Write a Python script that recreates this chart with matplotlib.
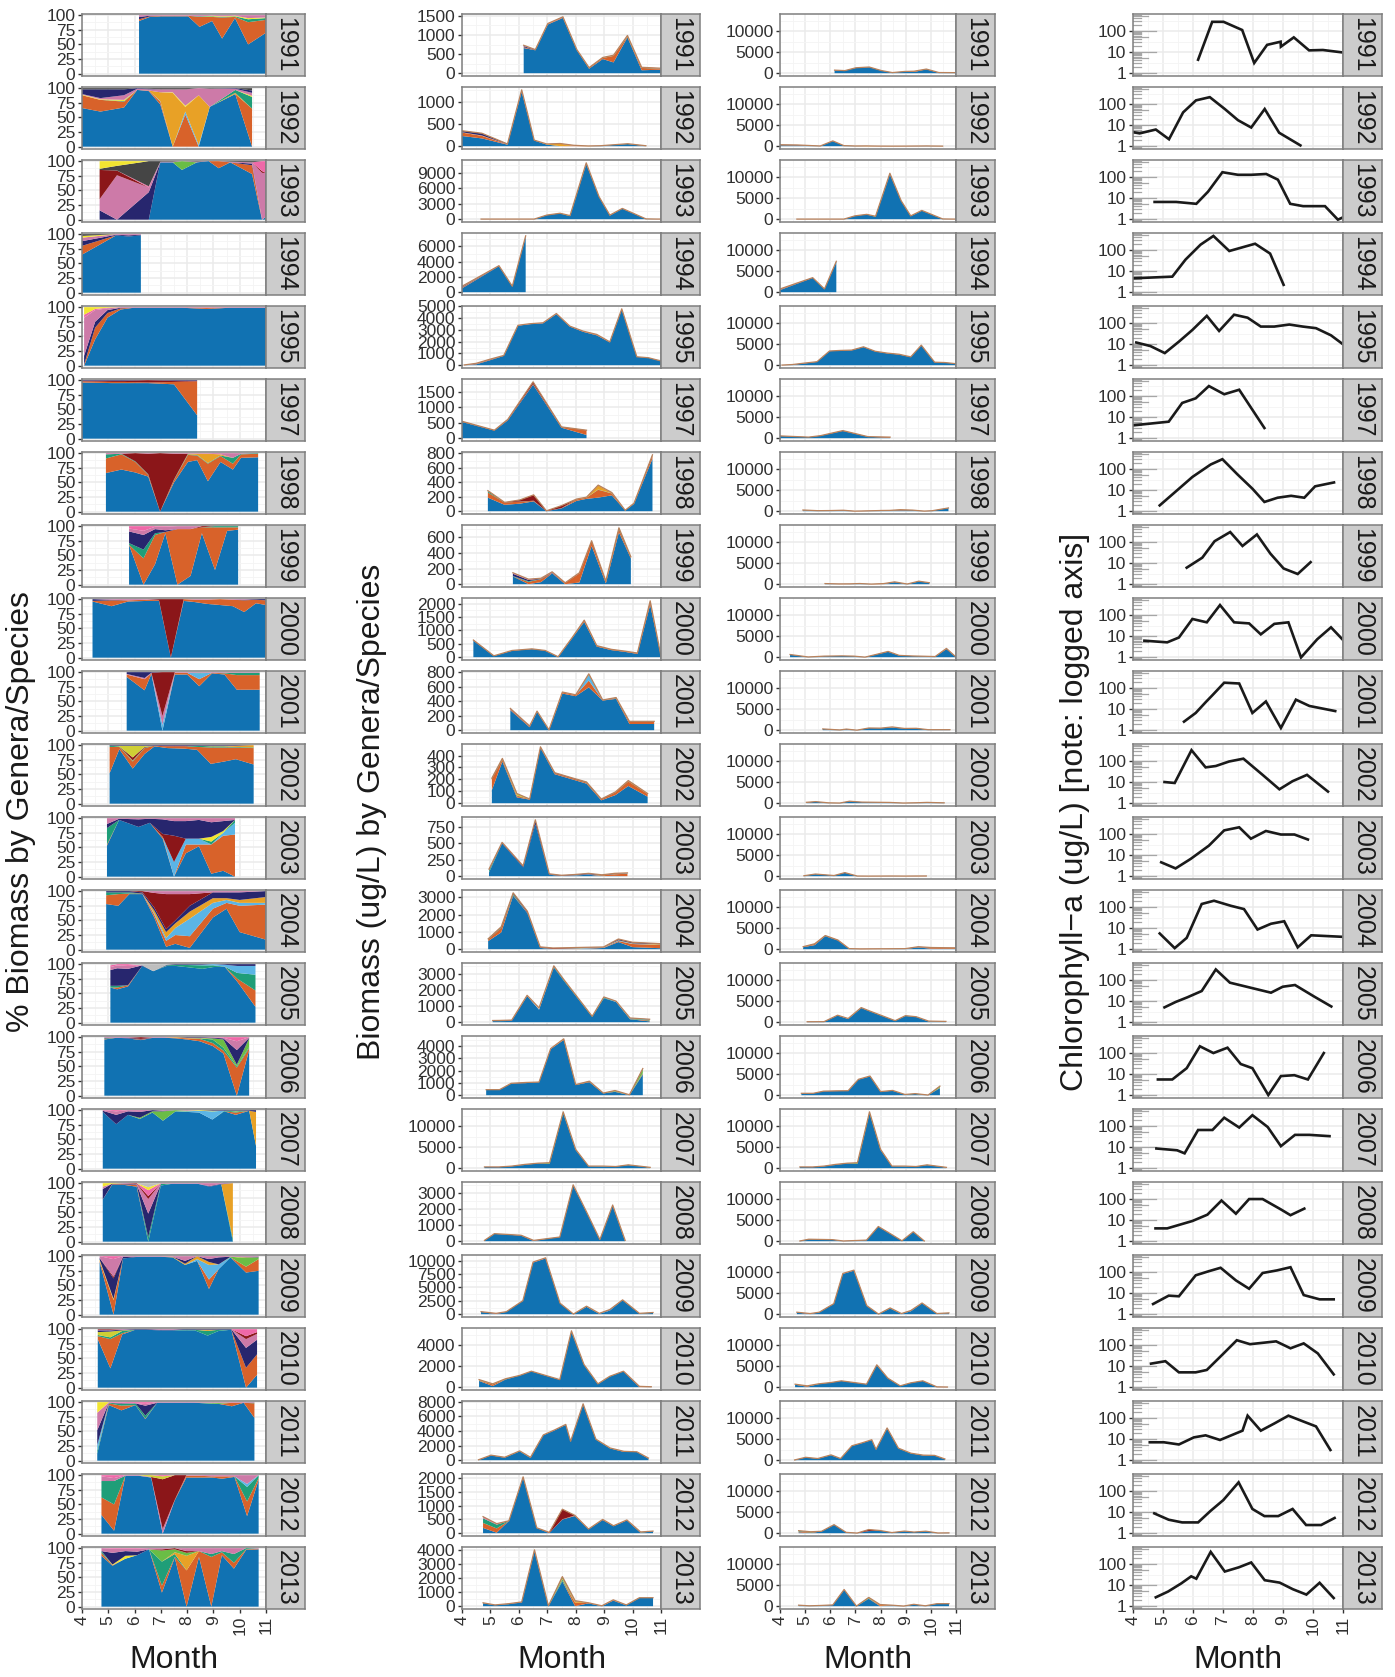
import numpy as np
import matplotlib
matplotlib.use("Agg")
import matplotlib.pyplot as plt
import matplotlib.transforms as mtransforms

plt.rcParams['font.family'] = ['Liberation Sans', 'DejaVu Sans']

years = [1991, 1992, 1993, 1994, 1995, 1997, 1998, 1999, 2000, 2001, 2002,
         2003, 2004, 2005, 2006, 2007, 2008, 2009, 2010, 2011, 2012, 2013]

# sampling dates (fractional month) for the phytoplankton counts
bio_month = {
    1991: [6.17, 6.58, 7.02, 7.55, 8.04, 8.47, 8.95, 9.33, 9.82, 10.32, 11.0],
    1992: [4.0, 4.7, 5.6, 6.1, 6.54, 6.98, 7.45, 7.93, 8.44, 8.86, 9.83, 10.47],
    1993: [4.67, 5.33, 6.54, 6.98, 7.45, 7.8, 8.37, 8.82, 9.2, 9.64, 10.47, 10.85, 11.0],
    1994: [4.0, 5.3, 5.77, 6.24],
    1995: [4.08, 4.5, 4.97, 5.47, 5.97, 6.38, 6.85, 7.32, 7.79, 8.26, 8.74, 9.2, 9.62, 10.15, 10.56, 11.0],
    1997: [4.0, 5.14, 5.61, 6.5, 7.5, 8.38],
    1998: [4.91, 5.5, 6.03, 6.52, 6.97, 7.5, 8.03, 8.38, 8.79, 9.27, 9.74, 10.05, 10.7],
    1999: [5.79, 6.34, 6.78, 7.17, 7.63, 8.13, 8.56, 9.06, 9.52, 9.94],
    2000: [4.4, 5.12, 5.76, 6.46, 6.93, 7.38, 7.87, 8.3, 8.74, 9.25, 9.74, 10.17, 10.62, 11.0],
    2001: [5.7, 6.38, 6.64, 7.06, 7.53, 8.0, 8.46, 8.95, 9.42, 9.89, 10.76],
    2002: [5.05, 5.42, 5.93, 6.38, 6.76, 7.26, 7.91, 8.38, 8.9, 9.4, 9.85, 10.53],
    2003: [4.95, 5.41, 6.15, 6.58, 7.07, 7.5, 7.95, 8.45, 8.92, 9.37, 9.82],
    2004: [4.92, 5.38, 5.8, 6.3, 6.75, 7.2, 7.55, 8.1, 8.98, 9.5, 10.0, 11.0],
    2005: [5.08, 5.34, 5.75, 6.29, 6.71, 7.23, 7.56, 8.58, 8.99, 9.42, 9.91, 10.6],
    2006: [4.85, 5.32, 5.73, 6.24, 6.71, 7.12, 7.58, 8.0, 8.48, 8.97, 9.38, 9.89, 10.36],
    2007: [4.79, 5.3, 5.75, 6.2, 6.68, 7.08, 7.56, 8.0, 8.45, 8.96, 9.41, 9.85, 10.36, 10.62],
    2008: [4.79, 5.14, 5.61, 6.08, 6.52, 7.0, 7.44, 7.91, 8.4, 8.85, 9.3, 9.74],
    2009: [4.67, 5.2, 5.56, 6.14, 6.5, 6.94, 7.45, 7.92, 8.38, 8.83, 9.2, 9.65, 10.24, 10.72],
    2010: [4.6, 5.08, 5.53, 6.03, 6.44, 6.94, 7.44, 7.85, 8.29, 8.78, 9.2, 9.68, 10.24, 10.66],
    2011: [4.58, 5.02, 5.5, 6.03, 6.41, 6.86, 7.26, 7.65, 7.82, 8.26, 8.71, 9.21, 9.7, 10.15, 10.56],
    2012: [4.74, 5.22, 5.65, 6.15, 6.63, 7.07, 7.53, 7.97, 8.45, 8.95, 9.33, 9.8, 10.28, 10.72],
    2013: [4.74, 5.16, 5.65, 6.1, 6.55, 7.04, 7.53, 7.98, 8.45, 8.92, 9.32, 9.78, 10.24, 10.72],
}

# total biomass (ug/L) on those dates
bio_total = {
    1991: [730, 617, 1300, 1474, 617, 146, 411, 470, 986, 154, 130],
    1992: [346, 290, 50, 1263, 135, 50, 60, 20, 5, 10, 55, 10],
    1993: [20, 20, 20, 800, 1160, 700, 11000, 4400, 800, 2100, 60, 20, 20],
    1994: [780, 3480, 780, 7400],
    1995: [20, 160, 500, 830, 3400, 3530, 3610, 4400, 3330, 2900, 2620, 1985, 4800, 715, 635, 360],
    1997: [545, 258, 606, 1818, 364, 258],
    1998: [284, 122, 155, 226, 5, 77, 168, 194, 361, 258, 13, 110, 780],
    1999: [146, 64, 76, 158, 18, 146, 555, 40, 720, 350],
    2000: [640, 52, 250, 310, 250, 17, 724, 1380, 430, 293, 224, 155, 2100, 30],
    2001: [300, 58, 263, 5, 526, 488, 777, 417, 450, 122, 122],
    2002: [210, 376, 81, 35, 473, 256, 210, 178, 35, 95, 190, 81],
    2003: [107, 514, 157, 857, 36, 14, 25, 43, 21, 43, 50],
    2004: [600, 1300, 3270, 2200, 134, 70, 80, 100, 130, 590, 400, 320],
    2005: [104, 110, 130, 1670, 887, 3500, 2700, 365, 1566, 1305, 261, 183],
    2006: [450, 450, 966, 1035, 1070, 3800, 4590, 863, 1140, 172, 380, 35, 2170],
    2007: [300, 300, 500, 900, 1200, 1300, 13500, 4500, 500, 500, 400, 800, 400, 200],
    2008: [50, 470, 420, 370, 50, 160, 260, 3520, 1760, 100, 2260, 50],
    2009: [472, 157, 472, 2520, 9760, 10550, 2050, 30, 1500, 157, 870, 2680, 157, 315],
    2010: [720, 320, 800, 1120, 1520, 1120, 720, 5360, 2160, 320, 1040, 1520, 80, 40],
    2011: [58, 690, 400, 1270, 400, 3460, 4150, 4900, 2590, 7720, 2880, 1670, 1210, 1150, 290],
    2012: [600, 345, 450, 2045, 195, 30, 870, 647, 150, 500, 270, 480, 45, 75],
    2013: [240, 90, 180, 300, 4000, 30, 2100, 390, 240, 30, 450, 90, 600, 600],
}

# y tick spacing of the free-scale biomass panels
bio_step = {1991: 500, 1992: 500, 1993: 3000, 1994: 2000, 1995: 1000, 1997: 500,
            1998: 200, 1999: 200, 2000: 500, 2001: 200, 2002: 100, 2003: 250,
            2004: 1000, 2005: 1000, 2006: 1000, 2007: 5000, 2008: 1000, 2009: 2500,
            2010: 2000, 2011: 2000, 2012: 500, 2013: 1000}

# percent composition by taxon (bottom -> top of the stack)
comp1991 = {'B': [90, 97, 98, 98, 98, 80, 90, 60, 95, 50, 70],
            'O': [3, 1, 1, 1, 1, 17, 7, 36, 2, 38, 22],
            'T': [0, 0, 0, 0, 0, 1, 1, 1, 1, 5, 3],
            'Y': [0, 0, 0, 0, 0, 0, 1, 1, 1, 2, 1],
            'N': [4, 1, 0, 0, 0, 0, 0, 0, 0, 0, 0],
            'P': [3, 1, 1, 1, 1, 2, 1, 2, 1, 5, 4]}
comp1992 = {'B': [66, 60, 67, 97, 95, 72, 0, 0, 0, 68, 90, 0],
            'O': [22, 20, 10, 0, 1, 5, 0, 55, 0, 0, 0, 65],
            'L': [0, 0, 0, 0, 0, 1, 0, 5, 3, 0, 0, 0],
            'G': [0, 0, 0, 0, 0, 15, 92, 8, 85, 0, 2, 0],
            'T': [0, 0, 1, 0, 0, 0, 0, 0, 0, 0, 5, 20],
            'Y': [1, 1, 2, 0, 0, 0, 1, 2, 0, 0, 0, 2],
            'P': [1, 2, 8, 2, 2, 5, 5, 28, 12, 31, 2, 5],
            'N': [8, 15, 10, 1, 1, 0, 0, 0, 0, 0, 1, 4],
            'K': [2, 2, 2, 0, 1, 2, 2, 2, 0, 1, 0, 4]}
comp1993 = {'B': [0, 0, 0, 98, 98, 85, 98, 100, 88, 98, 78, 0, 5],
            'O': [0, 0, 0, 0, 0, 0, 0, 0, 12, 0, 15, 0, 0],
            'V': [0, 0, 0, 0, 0, 15, 0, 0, 0, 0, 0, 0, 0],
            'N': [16, 0, 47, 0, 0, 0, 0, 0, 0, 0, 3, 0, 0],
            'P': [19, 76, 8, 1, 1, 0, 1, 0, 0, 1, 2, 80, 75],
            'R': [50, 8, 0, 0, 0, 0, 0, 0, 0, 0, 0, 3, 0],
            'H': [0, 0, 2, 0, 0, 0, 0, 0, 0, 0, 0, 17, 20],
            'K': [2, 8, 43, 1, 1, 0, 1, 0, 0, 1, 2, 0, 0],
            'Y': [13, 8, 0, 0, 0, 0, 0, 0, 0, 0, 0, 0, 0]}
comp1994 = {'B': [65, 98, 96, 98], 'O': [15, 0, 0, 0], 'N': [8, 1, 2, 1],
            'P': [6, 1, 2, 1], 'Y': [3, 0, 0, 0], 'K': [3, 0, 0, 0]}
comp1995 = {'B': [0, 45, 82, 96, 99, 99, 99, 99, 99, 98, 97, 98, 99, 99, 99, 99],
            'O': [2, 20, 8, 2, 0, 0, 0, 0, 0, 1, 2, 1, 0, 0, 0, 0],
            'N': [15, 10, 5, 1, 0, 0, 0, 0, 0, 0, 0, 0, 0, 0, 0, 0],
            'P': [65, 20, 3, 1, 1, 1, 1, 1, 1, 1, 1, 1, 1, 1, 1, 1],
            'H': [5, 2, 1, 0, 0, 0, 0, 0, 0, 0, 0, 0, 0, 0, 0, 0],
            'Y': [13, 3, 1, 0, 0, 0, 0, 0, 0, 0, 0, 0, 0, 0, 0, 0]}
comp1997 = {'B': [96, 95, 95, 95, 92, 40], 'O': [2, 2, 2, 1, 4, 58],
            'R': [1, 2, 2, 4, 2, 1], 'N': [1, 1, 1, 0, 1, 1]}
comp1998 = {'B': [66, 72, 67, 60, 0, 50, 85, 88, 52, 85, 72, 92, 93],
            'O': [25, 26, 18, 3, 0, 4, 12, 8, 30, 10, 10, 6, 6],
            'T': [7, 1, 1, 1, 0, 1, 1, 1, 1, 1, 10, 1, 1],
            'G': [0, 0, 0, 0, 0, 0, 1, 2, 16, 2, 0, 0, 0],
            'R': [0, 0, 14, 35, 100, 44, 0, 0, 0, 0, 0, 0, 0],
            'P': [2, 1, 0, 1, 0, 1, 1, 1, 1, 2, 8, 1, 0]}
comp1999 = {'B': [68, 0, 35, 88, 0, 15, 88, 25, 92, 94],
            'O': [0, 45, 50, 2, 95, 80, 10, 73, 6, 4],
            'T': [3, 15, 3, 0, 0, 0, 0, 2, 2, 2],
            'N': [20, 25, 7, 3, 0, 0, 0, 0, 0, 0],
            'R': [0, 0, 0, 0, 0, 0, 2, 0, 0, 0],
            'P': [5, 7, 4, 6, 5, 5, 0, 0, 0, 0],
            'H': [4, 8, 1, 1, 0, 0, 0, 0, 0, 0]}
comp2000 = {'B': [96, 88, 96, 97, 97, 0, 97, 95, 92, 90, 88, 78, 93, 90],
            'O': [1, 10, 2, 2, 1, 0, 3, 4, 7, 10, 11, 20, 6, 8],
            'R': [0, 0, 0, 0, 2, 100, 0, 0, 0, 0, 0, 0, 0, 0],
            'N': [3, 1, 0, 0, 0, 0, 0, 0, 0, 0, 0, 1, 1, 2],
            'P': [0, 1, 2, 1, 0, 0, 0, 1, 1, 0, 1, 1, 0, 0]}
comp2001 = {'B': [92, 69, 97, 0, 96, 96, 76, 98, 96, 70, 70],
            'O': [4, 19, 1, 0, 3, 3, 12, 1, 2, 25, 25],
            'L': [0, 0, 0, 10, 0, 0, 10, 0, 0, 0, 0],
            'T': [0, 0, 0, 0, 0, 0, 1, 0, 1, 4, 4],
            'P': [1, 2, 1, 15, 1, 1, 1, 1, 1, 1, 1],
            'R': [0, 0, 0, 75, 0, 0, 0, 0, 0, 0, 0],
            'N': [3, 10, 1, 0, 0, 0, 0, 0, 0, 0, 0]}
comp2002 = {'B': [52, 93, 60, 85, 98, 95, 94, 92, 68, 72, 76, 67],
            'O': [45, 4, 12, 10, 1, 3, 4, 5, 28, 24, 20, 28],
            'T': [2, 1, 1, 1, 0, 0, 0, 2, 2, 2, 1, 1],
            'G': [0, 0, 1, 0, 0, 0, 0, 0, 1, 1, 2, 4],
            'R': [0, 0, 5, 1, 0, 1, 1, 0, 0, 0, 0, 0],
            'W': [0, 1, 20, 2, 0, 0, 0, 0, 0, 0, 0, 0],
            'N': [1, 1, 1, 1, 1, 1, 1, 1, 1, 1, 1, 0]}
comp2003 = {'B': [53, 97, 85, 92, 65, 0, 40, 52, 5, 10, 0],
            'O': [2, 0, 0, 0, 3, 0, 15, 3, 50, 60, 72],
            'L': [0, 0, 0, 0, 0, 25, 10, 10, 0, 5, 20],
            'T': [28, 0, 0, 0, 0, 0, 0, 0, 5, 0, 5],
            'Y': [0, 0, 0, 0, 0, 0, 0, 0, 8, 3, 0],
            'R': [0, 0, 0, 0, 5, 45, 0, 0, 0, 0, 0],
            'N': [7, 2, 13, 7, 25, 25, 30, 32, 25, 17, 0],
            'P': [10, 1, 2, 1, 2, 5, 5, 3, 7, 5, 3]}
comp2004 = {'B': [78, 75, 95, 95, 55, 5, 10, 3, 55, 70, 30, 17],
            'O': [15, 20, 1, 1, 5, 10, 15, 20, 15, 10, 45, 60],
            'T': [5, 3, 2, 0, 0, 0, 0, 0, 0, 0, 0, 0],
            'L': [0, 0, 0, 0, 2, 5, 12, 30, 10, 5, 5, 3],
            'G': [0, 0, 0, 0, 5, 10, 8, 12, 8, 3, 5, 10],
            'N': [2, 2, 2, 2, 5, 5, 5, 10, 10, 10, 13, 10],
            'R': [0, 0, 0, 2, 25, 60, 45, 20, 0, 0, 0, 0],
            'P': [0, 0, 0, 0, 3, 5, 5, 5, 2, 2, 2, 0]}
comp2005 = {'B': [60, 57, 62, 97, 88, 97, 97, 92, 95, 96, 70, 27],
            'O': [0, 3, 2, 0, 0, 0, 0, 0, 0, 0, 5, 28],
            'T': [3, 3, 0, 0, 0, 1, 2, 6, 3, 0, 10, 27],
            'L': [0, 0, 0, 0, 0, 0, 0, 1, 2, 3, 12, 15],
            'N': [27, 30, 28, 1, 0, 1, 1, 1, 0, 1, 3, 3],
            'P': [5, 5, 5, 0, 0, 0, 0, 0, 0, 0, 0, 0],
            'H': [3, 2, 3, 0, 0, 0, 0, 0, 0, 0, 0, 0],
            'S': [2, 0, 0, 2, 12, 1, 0, 0, 0, 0, 0, 0]}
comp2006 = {'B': [96, 99, 98, 95, 99, 99, 98, 96, 93, 85, 72, 0, 78],
            'O': [1, 0, 0, 1, 0, 0, 1, 2, 4, 5, 5, 48, 3],
            'T': [1, 0, 0, 0, 0, 0, 0, 0, 1, 6, 5, 2, 2],
            'V': [0, 0, 0, 0, 0, 0, 0, 0, 0, 2, 14, 3, 15],
            'G': [0, 0, 0, 0, 0, 0, 1, 1, 1, 0, 0, 0, 0],
            'N': [1, 0, 1, 1, 0, 0, 0, 1, 1, 1, 2, 25, 1],
            'R': [0, 0, 0, 3, 0, 0, 0, 0, 0, 0, 0, 0, 0],
            'P': [1, 1, 1, 0, 1, 1, 0, 0, 0, 1, 1, 15, 1],
            'H': [0, 0, 0, 0, 0, 0, 0, 0, 0, 0, 1, 7, 0]}
comp2007 = {'B': [97, 76, 92, 85, 96, 82, 98, 97, 96, 84, 98, 92, 99, 39],
            'O': [0, 0, 0, 0, 0, 0, 0, 0, 0, 0, 0, 4, 0, 0],
            'T': [0, 0, 0, 0, 0, 0, 0, 0, 0, 0, 1, 2, 0, 0],
            'L': [0, 0, 0, 0, 0, 0, 0, 1, 3, 14, 0, 0, 0, 0],
            'G': [0, 0, 0, 0, 0, 0, 0, 0, 0, 0, 0, 0, 0, 58],
            'V': [0, 0, 0, 2, 2, 16, 2, 1, 0, 0, 0, 0, 0, 0],
            'Y': [0, 0, 0, 0, 0, 0, 0, 0, 1, 1, 0, 1, 0, 0],
            'N': [2, 16, 6, 10, 2, 1, 0, 0, 0, 1, 1, 1, 1, 3],
            'P': [1, 6, 2, 3, 0, 1, 0, 1, 0, 0, 0, 0, 0, 0],
            'H': [0, 2, 0, 0, 0, 0, 0, 0, 0, 0, 0, 0, 0, 0]}
comp2008 = {'B': [72, 97, 97, 94, 0, 96, 99, 98, 98, 94, 98, 0],
            'O': [0, 1, 1, 3, 0, 0, 0, 0, 0, 0, 0, 0],
            'T': [0, 0, 0, 0, 8, 3, 0, 0, 0, 0, 0, 5],
            'G': [0, 0, 0, 0, 0, 0, 0, 0, 0, 0, 0, 95],
            'N': [18, 1, 1, 1, 40, 0, 0, 0, 0, 1, 1, 0],
            'P': [4, 0, 1, 1, 25, 1, 1, 1, 1, 5, 1, 0],
            'R': [0, 0, 0, 1, 5, 0, 0, 0, 0, 0, 0, 0],
            'H': [0, 0, 0, 0, 10, 0, 0, 0, 0, 0, 0, 0],
            'Y': [6, 1, 0, 0, 5, 0, 0, 0, 0, 0, 0, 0],
            'S': [0, 0, 0, 0, 7, 0, 0, 0, 0, 0, 0, 0]}
comp2009 = {'B': [90, 0, 96, 99, 99, 99, 98, 85, 92, 44, 78, 98, 72, 75],
            'O': [2, 25, 0, 0, 0, 0, 0, 0, 0, 16, 0, 0, 10, 20],
            'L': [0, 0, 0, 0, 0, 0, 0, 0, 3, 25, 8, 0, 0, 0],
            'G': [0, 0, 0, 0, 0, 0, 1, 2, 5, 5, 0, 0, 0, 0],
            'V': [0, 0, 0, 0, 0, 0, 0, 0, 0, 0, 0, 1, 15, 3],
            'Y': [2, 2, 0, 0, 0, 0, 0, 0, 0, 0, 0, 0, 1, 0],
            'N': [3, 35, 3, 0, 0, 0, 0, 5, 0, 5, 12, 0, 1, 1],
            'R': [0, 3, 0, 0, 0, 0, 0, 0, 0, 0, 0, 0, 0, 0],
            'P': [3, 30, 1, 1, 1, 1, 1, 8, 0, 5, 2, 1, 1, 1],
            'H': [0, 5, 0, 0, 0, 0, 0, 0, 0, 0, 0, 0, 0, 0]}
comp2010 = {'B': [83, 33, 91, 99, 99, 98, 98, 98, 98, 89, 97, 99, 0, 22],
            'O': [5, 50, 2, 0, 0, 0, 0, 0, 0, 0, 0, 0, 34, 35],
            'T': [2, 3, 4, 0, 0, 0, 0, 1, 1, 8, 2, 0, 0, 0],
            'G': [0, 0, 0, 0, 0, 0, 0, 0, 0, 2, 0, 0, 0, 0],
            'W': [5, 10, 1, 0, 0, 0, 0, 0, 0, 0, 0, 0, 0, 0],
            'N': [3, 2, 1, 1, 1, 1, 1, 1, 1, 1, 1, 1, 34, 25],
            'P': [1, 1, 1, 0, 0, 1, 1, 0, 0, 0, 0, 0, 15, 10],
            'R': [1, 1, 0, 0, 0, 0, 0, 0, 0, 0, 0, 0, 5, 3],
            'H': [0, 0, 0, 0, 0, 0, 0, 0, 0, 0, 0, 0, 12, 5]}
comp2011 = {'B': [12, 95, 86, 95, 71, 99, 99, 99, 99, 99, 98, 97, 93, 99, 73],
            'O': [0, 3, 8, 0, 1, 0, 0, 0, 0, 0, 0, 0, 6, 0, 25],
            'T': [5, 1, 3, 3, 5, 0, 0, 0, 0, 0, 0, 0, 0, 0, 1],
            'L': [10, 0, 0, 0, 0, 0, 0, 0, 0, 0, 0, 0, 0, 0, 0],
            'V': [0, 0, 0, 0, 0, 0, 0, 0, 0, 0, 1, 2, 0, 0, 0],
            'N': [25, 0, 1, 0, 17, 0, 0, 0, 0, 0, 0, 0, 0, 0, 0],
            'P': [30, 0, 1, 0, 3, 1, 1, 1, 1, 1, 1, 1, 1, 1, 1],
            'H': [0, 1, 1, 2, 3, 0, 0, 0, 0, 0, 0, 0, 0, 0, 0],
            'Y': [18, 0, 0, 0, 0, 0, 0, 0, 0, 0, 0, 0, 0, 0, 0]}
comp2012 = {'B': [32, 5, 99, 99, 96, 0, 57, 96, 96, 96, 94, 97, 30, 92],
            'O': [30, 45, 0, 0, 0, 0, 1, 3, 3, 2, 4, 1, 25, 3],
            'T': [28, 40, 0, 0, 0, 0, 0, 0, 0, 0, 0, 0, 25, 5],
            'L': [0, 0, 0, 0, 0, 0, 0, 0, 0, 0, 0, 0, 5, 0],
            'P': [8, 5, 1, 1, 1, 8, 0, 1, 1, 2, 2, 2, 15, 0],
            'R': [0, 0, 0, 0, 0, 85, 42, 0, 0, 0, 0, 0, 0, 0],
            'W': [0, 0, 0, 0, 3, 5, 0, 0, 0, 0, 0, 0, 0, 0],
            'H': [2, 5, 0, 0, 0, 2, 0, 0, 0, 0, 0, 0, 0, 0]}
comp2013 = {'B': [87, 70, 82, 88, 98, 24, 84, 0, 85, 0, 88, 65, 97, 98],
            'O': [5, 1, 0, 0, 0, 12, 1, 62, 10, 85, 5, 10, 1, 1],
            'T': [3, 0, 0, 0, 0, 41, 5, 0, 0, 5, 2, 15, 2, 0],
            'G': [0, 0, 0, 0, 0, 0, 3, 25, 0, 0, 0, 0, 0, 0],
            'V': [0, 0, 0, 0, 0, 19, 5, 5, 0, 0, 0, 0, 0, 0],
            'Y': [0, 1, 5, 0, 0, 0, 0, 0, 0, 0, 0, 0, 0, 0],
            'N': [0, 20, 8, 6, 0, 0, 0, 0, 0, 0, 0, 0, 0, 0],
            'R': [0, 0, 0, 0, 0, 2, 2, 3, 0, 0, 0, 0, 0, 0],
            'P': [5, 7, 4, 5, 2, 2, 0, 5, 5, 10, 5, 10, 0, 1],
            'H': [0, 1, 1, 1, 0, 0, 0, 0, 0, 0, 0, 0, 0, 0]}

# chlorophyll-a (ug/L)
chl_month = {
    1991: [6.17, 6.64, 7.02, 7.64, 8.04, 8.47, 8.92, 8.93, 9.36, 9.87, 10.33, 11.0],
    1992: [4.0, 4.22, 4.76, 5.2, 5.67, 6.1, 6.56, 7.06, 7.5, 7.94, 8.39, 8.87, 9.58],
    1993: [4.72, 5.44, 6.11, 6.5, 6.98, 7.5, 7.94, 8.44, 8.83, 9.24, 9.67, 10.4, 10.83, 11.0],
    1994: [4.0, 5.31, 5.75, 6.25, 6.68, 7.21, 8.07, 8.57, 9.02],
    1995: [4.11, 4.58, 5.06, 5.53, 5.98, 6.46, 6.87, 7.37, 7.82, 8.26, 8.71, 9.21, 9.66, 10.1, 10.6, 11.0],
    1997: [4.0, 5.19, 5.64, 6.09, 6.53, 7.04, 7.54, 8.38],
    1998: [4.89, 5.47, 5.98, 6.59, 6.98, 7.48, 7.98, 8.38, 8.82, 9.27, 9.71, 10.07, 10.7],
    1999: [5.79, 6.31, 6.72, 7.24, 7.65, 8.13, 8.58, 9.02, 9.49, 9.92],
    2000: [4.38, 5.14, 5.53, 5.98, 6.46, 6.9, 7.37, 7.87, 8.26, 8.71, 9.18, 9.6, 10.14, 10.6, 11.0],
    2001: [5.7, 6.09, 6.42, 6.65, 7.04, 7.54, 7.98, 8.43, 8.93, 9.43, 9.88, 10.74],
    2002: [5.05, 5.39, 5.95, 6.42, 6.76, 7.2, 7.68, 8.32, 8.88, 9.32, 9.8, 10.5],
    2003: [4.94, 5.42, 5.92, 6.53, 7.04, 7.54, 7.93, 8.43, 8.93, 9.38, 9.83],
    2004: [4.89, 5.39, 5.79, 6.29, 6.7, 7.26, 7.7, 8.15, 8.6, 9.04, 9.49, 9.94, 11.0],
    2005: [5.05, 5.42, 5.81, 6.29, 6.76, 7.23, 8.6, 8.99, 9.4, 10.05, 10.61],
    2006: [4.83, 5.31, 5.79, 6.23, 6.68, 7.15, 7.59, 7.98, 8.51, 8.93, 9.38, 9.83, 10.36],
    2007: [4.78, 5.47, 5.72, 6.17, 6.65, 7.04, 7.54, 7.98, 8.49, 8.93, 9.4, 9.88, 10.55],
    2008: [4.75, 5.14, 5.98, 6.48, 6.95, 7.43, 7.87, 8.32, 8.93, 9.25, 9.71],
    2009: [4.67, 5.19, 5.53, 6.09, 6.53, 6.92, 7.43, 7.87, 8.32, 8.8, 9.25, 9.69, 10.22, 10.69],
    2010: [4.6, 5.08, 5.53, 6.09, 6.46, 6.98, 7.46, 7.9, 8.77, 9.25, 9.69, 10.16, 10.69],
    2011: [4.56, 5.03, 5.53, 6.03, 6.42, 6.9, 7.65, 7.82, 8.26, 8.71, 9.18, 9.66, 10.1, 10.58],
    2012: [4.71, 5.19, 5.64, 6.17, 6.59, 7.01, 7.52, 7.98, 8.38, 8.84, 9.32, 9.77, 10.27, 10.72],
    2013: [4.76, 5.17, 5.61, 5.94, 6.11, 6.59, 7.06, 7.53, 7.94, 8.39, 8.89, 9.33, 9.78, 10.22, 10.69],
}
chl_value = {
    1991: [4.3, 275, 275, 112, 3, 22, 31, 18, 50, 12, 12.5, 9.5],
    1992: [4.6, 4, 6.1, 2.1, 40, 150, 213, 58, 17, 7.6, 58, 4.3, 1.07],
    1993: [6.5, 6.5, 5.3, 20, 170, 128, 128, 140, 75, 5.3, 4.1, 4.1, 0.93, 1.2],
    1994: [4.5, 5.4, 35, 180, 470, 90, 200, 68, 2.2],
    1995: [11.8, 8, 3.7, 13, 47, 220, 42, 250, 180, 68, 68, 85, 68, 57, 26, 9.7],
    1997: [4.0, 6, 47, 78, 300, 122, 200, 3.0],
    1998: [1.85, 9.7, 42, 165, 295, 56, 11.6, 2.7, 4.3, 5.3, 4.3, 15, 23],
    1999: [6, 18, 110, 300, 65, 230, 28, 5.5, 3, 11],
    2000: [6, 5, 8.5, 65, 45, 300, 45, 40, 12, 38, 45, 0.95, 7, 26, 6.5],
    2001: [2.5, 6.5, 21, 46, 180, 165, 6.5, 23, 1.25, 28, 14, 8],
    2002: [10, 9, 330, 50, 58, 95, 130, 22, 4.5, 11, 22, 3.5],
    2003: [4.5, 2.3, 6.5, 28, 150, 210, 60, 140, 95, 95, 55],
    2004: [5.5, 1.1, 3.4, 140, 200, 115, 80, 8.5, 16, 21, 1.2, 4.5, 3.8],
    2005: [5, 9, 15, 30, 320, 75, 25, 48, 58, 16, 5.5],
    2006: [5.5, 5.5, 19, 210, 100, 180, 30, 19, 1.0, 8, 8.8, 5.5, 100],
    2007: [8.5, 7, 5, 65, 65, 250, 85, 330, 90, 11, 38, 38, 33],
    2008: [4, 4, 9, 18, 85, 20, 100, 100, 32, 17, 35],
    2009: [3, 7.5, 7, 70, 110, 160, 40, 16, 90, 120, 170, 8, 5, 5],
    2010: [13, 17, 5, 5, 6.5, 35, 170, 110, 150, 70, 120, 40, 4],
    2011: [7, 7, 5.5, 12, 15, 9, 25, 130, 25, 55, 130, 70, 40, 3],
    2012: [8.6, 4.3, 3.2, 3.2, 11.5, 37, 260, 14, 6.4, 6.4, 14, 2.4, 2.4, 5.2],
    2013: [2.6, 4.9, 12, 26, 20, 380, 44, 70, 119, 17, 13, 6.3, 3.5, 12.8, 2.4],
}

comp = {1991: comp1991, 1992: comp1992, 1993: comp1993, 1994: comp1994, 1995: comp1995,
        1997: comp1997, 1998: comp1998, 1999: comp1999, 2000: comp2000, 2001: comp2001,
        2002: comp2002, 2003: comp2003, 2004: comp2004, 2005: comp2005, 2006: comp2006,
        2007: comp2007, 2008: comp2008, 2009: comp2009, 2010: comp2010, 2011: comp2011,
        2012: comp2012, 2013: comp2013}

taxon_color = {'B': '#1172B2', 'O': '#D8622A', 'L': '#5BB5E6', 'T': '#1F9E78',
               'G': '#E8A126', 'Y': '#F2E531', 'W': '#CFCF35', 'V': '#6ABD45',
               'N': '#27266E', 'R': '#8B1619', 'P': '#CD7AA8', 'K': '#454545',
               'H': '#EF68A8', 'S': '#BEBEBE'}

# ---- layout (pixels) ----
W, H = 1395, 1677
ROW0, PITCH, PH = 14, 73, 62
STRIP = 39
cols = [(82, 266), (462, 661), (780, 956), (1133, 1343)]
TXT = '#303030'
EDGE = '#7F7F7F'

fig = plt.figure(figsize=(W / 100, H / 100), dpi=100)


def rect(x0, x1, r):
    top = ROW0 + PITCH * r
    return [x0 / W, 1 - (top + PH) / H, (x1 - x0) / W, PH / H]


def style(ax, last):
    ax.set_xlim(4, 11)
    ax.set_xticks(range(4, 12))
    ax.set_xticks(np.arange(4.5, 11, 1), minor=True)
    ax.grid(which='major', color='#EBEBEB', lw=1.1)
    ax.grid(which='minor', color='#F4F4F4', lw=0.6)
    ax.set_axisbelow(True)
    for s in ax.spines.values():
        s.set_color(EDGE)
        s.set_linewidth(1.1)
        s.set_zorder(5)
    ax.tick_params(which='minor', length=0)
    ax.tick_params(which='major', length=3.2, width=1, color='#333333',
                   labelsize=12.5, labelcolor=TXT, pad=1.5)
    if last:
        ax.set_xticklabels([str(m) for m in range(4, 12)], rotation=90)
    else:
        ax.tick_params(axis='x', which='major', length=0, labelbottom=False)


def strip(x1, r, year):
    sa = fig.add_axes(rect(x1, x1 + STRIP, r))
    sa.set_facecolor('#CCCCCC')
    sa.set_xticks([])
    sa.set_yticks([])
    for s in sa.spines.values():
        s.set_color(EDGE)
        s.set_linewidth(1.1)
    sa.text(0.5, 0.5, str(year), rotation=270, ha='center', va='center',
            fontsize=18, color='#1A1A1A', transform=sa.transAxes)


def stack(ax, x, parts, scale):
    x = np.asarray(x, float)
    arrs = [np.asarray(v, float) for v in parts.values()]
    tot = np.sum(arrs, axis=0)
    base = np.zeros_like(x)
    for code, a in zip(parts.keys(), arrs):
        top = base + a / tot * scale
        ax.fill_between(x, base, top, facecolor=taxon_color[code],
                        edgecolor='none', lw=0, zorder=2)
        base = top
    return base


gmax = max(max(v) for v in bio_total.values())
nrow = len(years)

for r, yr in enumerate(years):
    last = r == nrow - 1
    x = bio_month[yr]
    tot = np.asarray(bio_total[yr], float)

    # column 1: percent composition
    ax = fig.add_axes(rect(*cols[0], r))
    stack(ax, x, comp[yr], 100.0)
    ax.set_ylim(-4, 102)
    ax.set_yticks([0, 25, 50, 75, 100])
    ax.set_yticks([12.5, 37.5, 62.5, 87.5], minor=True)
    style(ax, last)
    strip(cols[0][1], r, yr)

    # column 2: biomass, free scale
    ax = fig.add_axes(rect(*cols[1], r))
    top = stack(ax, x, comp[yr], tot)
    ax.plot(x, top, color='#B9825C', lw=0.9, zorder=3)
    m = tot.max()
    ax.set_ylim(-0.05 * m, 1.05 * m)
    step = bio_step[yr]
    ax.set_yticks(np.arange(0, 1.05 * m, step))
    ax.set_yticks(np.arange(step / 2, 1.05 * m, step), minor=True)
    style(ax, last)
    strip(cols[1][1], r, yr)

    # column 3: biomass, common scale
    ax = fig.add_axes(rect(*cols[2], r))
    top = stack(ax, x, comp[yr], tot)
    ax.plot(x, top, color='#B9825C', lw=0.9, zorder=3)
    ax.set_ylim(-0.05 * gmax, 1.05 * gmax)
    ax.set_yticks([0, 5000, 10000])
    ax.set_yticks([2500, 7500, 12500], minor=True)
    style(ax, last)
    strip(cols[2][1], r, yr)

    # column 4: chlorophyll-a, log axis
    ax = fig.add_axes(rect(*cols[3], r))
    ax.set_yscale('log')
    ax.plot(chl_month[yr], chl_value[yr], color='#1A1A1A', lw=1.9,
            solid_joinstyle='miter', zorder=3)
    ax.set_ylim(0.72, 650)
    ax.set_yticks([1, 10, 100])
    ax.set_yticklabels(['1', '10', '100'])
    ax.set_yticks([10 ** 0.5, 10 ** 1.5, 10 ** 2.5], minor=True)
    ax.yaxis.set_minor_formatter(matplotlib.ticker.NullFormatter())
    style(ax, last)
    trans = mtransforms.blended_transform_factory(ax.transAxes, ax.transData)
    pw = cols[3][1] - cols[3][0]
    for d in [0.1, 1, 10, 100]:
        for k in range(1, 10):
            v = d * k
            if v < 0.72 or v > 650:
                continue
            ln = 23 if k == 1 else (15 if k == 5 else 8)
            ax.plot([0, ln / pw], [v, v], transform=trans, color='#A6A6A6',
                    lw=0.9, zorder=1.5)
    strip(cols[3][1], r, yr)

# axis titles
yc = 1 - (ROW0 + (PITCH * (nrow - 1) + PH) / 2) / H
fig.text(21 / W, yc, '% Biomass by Genera/Species', rotation=90,
         ha='center', va='center', fontsize=23, color='#1A1A1A')
fig.text(372 / W, yc, 'Biomass (ug/L) by Genera/Species', rotation=90,
         ha='center', va='center', fontsize=23, color='#1A1A1A')
fig.text(1075 / W, yc, 'Chlorophyll\u2212a (ug/L) [note: logged axis]', rotation=90,
         ha='center', va='center', fontsize=23, color='#1A1A1A')
for x0, x1 in cols:
    fig.text((x0 + x1) / 2 / W, 1 - 1660 / H, 'Month', ha='center', va='center',
             fontsize=23, color='#1A1A1A')

fig.savefig('out.png', dpi=100)
